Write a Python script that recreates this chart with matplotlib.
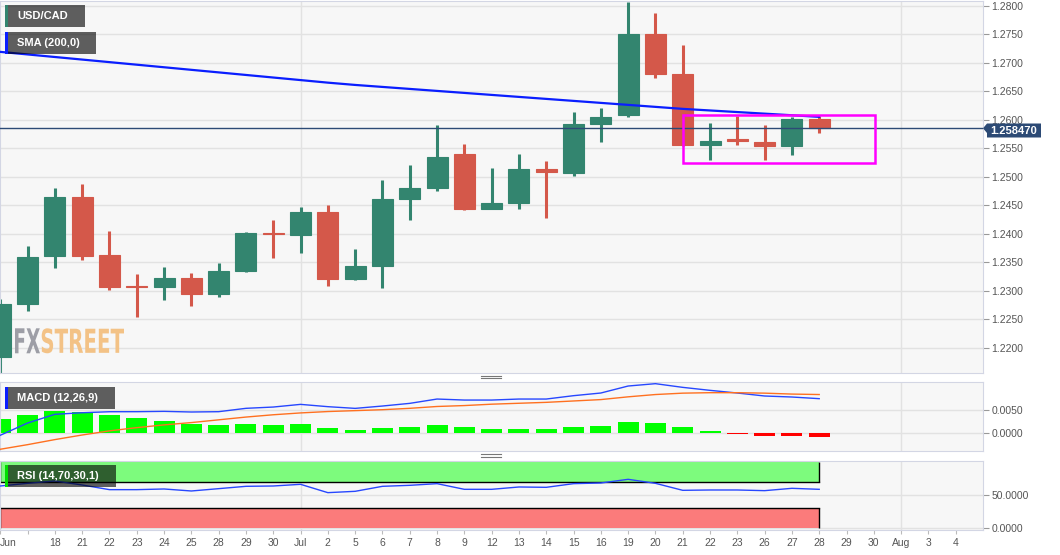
import numpy as np
import matplotlib
matplotlib.use('Agg')
import matplotlib.pyplot as plt
from matplotlib.patches import Rectangle, Polygon, PathPatch
from matplotlib.lines import Line2D
from matplotlib.textpath import TextPath
from matplotlib.font_manager import FontProperties
from matplotlib.transforms import Affine2D, IdentityTransform
from matplotlib.ticker import FormatStrFormatter

plt.rcParams['font.family'] = ['Liberation Sans', 'DejaVu Sans']

# daily USD/CAD candles, Jun 16 .. Jul 28
opens = [1.2184, 1.2277, 1.2360, 1.2464, 1.2362, 1.2308, 1.2306, 1.2323, 1.2294, 1.2335,
         1.2402, 1.2398, 1.2438, 1.2321, 1.2343, 1.2461, 1.2481, 1.2540, 1.2444, 1.2454,
         1.2513, 1.2507, 1.2593, 1.2609, 1.2750, 1.2680, 1.2555, 1.2566, 1.2561, 1.2554,
         1.2602]
highs = [1.2285, 1.2378, 1.2481, 1.2487, 1.2405, 1.2329, 1.2342, 1.2331, 1.2348, 1.2403,
         1.2424, 1.2446, 1.2450, 1.2373, 1.2495, 1.2521, 1.2590, 1.2557, 1.2515, 1.2539,
         1.2527, 1.2613, 1.2620, 1.2806, 1.2787, 1.2731, 1.2594, 1.2607, 1.2590, 1.2605,
         1.2606]
lows = [1.2150, 1.2264, 1.2339, 1.2354, 1.2302, 1.2253, 1.2283, 1.2273, 1.2289, 1.2333,
        1.2357, 1.2366, 1.2309, 1.2318, 1.2304, 1.2424, 1.2475, 1.2442, 1.2443, 1.2443,
        1.2427, 1.2501, 1.2560, 1.2604, 1.2674, 1.2554, 1.2529, 1.2555, 1.2529, 1.2538,
        1.2577]
closes = [1.2277, 1.2359, 1.2464, 1.2361, 1.2307, 1.2306, 1.2323, 1.2294, 1.2335, 1.2402,
          1.2400, 1.2438, 1.2321, 1.2343, 1.2461, 1.2480, 1.2534, 1.2444, 1.2453, 1.2513,
          1.2508, 1.2593, 1.2605, 1.2750, 1.2681, 1.2555, 1.2562, 1.2562, 1.2554, 1.2601,
          1.25847]
sma200 = [1.2719, 1.27145, 1.2710, 1.27055, 1.2701, 1.26965, 1.2692, 1.26875, 1.2683, 1.26785,
          1.2674, 1.26695, 1.2665, 1.2661, 1.26575, 1.2654, 1.26505, 1.2647, 1.26435, 1.2640,
          1.26365, 1.2633, 1.26295, 1.2626, 1.26225, 1.2619, 1.26162, 1.26134, 1.26106, 1.26078,
          1.2605]
last_price = 1.25847

macd_line = [-0.00056, 0.0021, 0.0040, 0.00434, 0.00456, 0.00457, 0.00464, 0.0045, 0.00457, 0.0053,
             0.00558, 0.00616, 0.00566, 0.00529, 0.0058, 0.00638, 0.00732, 0.0071, 0.0071, 0.00732,
             0.00732, 0.00805, 0.00863, 0.01015, 0.01066, 0.00986, 0.00921, 0.00863, 0.00798, 0.00776,
             0.0074]
signal_line = [-0.0036, -0.0026, -0.0015, -0.0005, 0.0004, 0.0011, 0.0017, 0.0022, 0.0028, 0.0034,
               0.0039, 0.0043, 0.0046, 0.0048, 0.0050, 0.0053, 0.0057, 0.0059, 0.0062, 0.0064,
               0.0066, 0.0069, 0.0072, 0.0078, 0.0083, 0.0086, 0.0087, 0.0087, 0.0086, 0.0084,
               0.0083]
macd_hist = [0.0030, 0.0038, 0.0048, 0.0045, 0.0038, 0.00315, 0.0026, 0.0020, 0.00165, 0.00185,
             0.00175, 0.0019, 0.0010, 0.0005, 0.00095, 0.0012, 0.0016, 0.00115, 0.0008, 0.00087,
             0.0008, 0.00116, 0.00138, 0.00225, 0.00218, 0.00116, 0.00043, -0.00022, -0.00065, -0.00065,
             -0.00087]
rsi = [63.5, 67.5, 71, 65, 58, 58, 59, 56, 59.5, 63,
       63.5, 66, 53.5, 55.5, 63, 64.5, 67, 58.5, 58.5, 62,
       61.5, 67, 68, 73.5, 67.5, 57, 57.5, 57.5, 56.5, 60,
       58.5]

x_labels = ['Jun', '', '18', '21', '22', '23', '24', '25', '28', '29', '30', 'Jul', '2', '5', '6',
            '7', '8', '9', '12', '13', '14', '15', '16', '19', '20', '21', '22', '23', '26', '27',
            '28', '29', '30', 'Aug', '3', '4']
month_slots = [11, 33]

GREEN = '#33856f'
RED = '#d4584a'
W, H = 1060, 555


def fig_box(x0, y0, x1, y1):
    return [x0 / W, 1 - y1 / H, (x1 - x0) / W, (y1 - y0) / H]


def style(a):
    a.set_facecolor('#f7f7f7')
    for s in a.spines.values():
        s.set_color('#d3d6e4')
    a.yaxis.tick_right()
    a.tick_params(axis='y', length=4, width=0.8, color='#999999', labelsize=7.5,
                  labelcolor='#555555', pad=2)
    a.tick_params(axis='x', bottom=False, labelbottom=False)
    a.grid(axis='y', color='#e2e2e2', lw=1)
    a.set_axisbelow(True)
    a.set_xlim(-0.01, 36.0)
    for xs in month_slots:
        a.axvline(xs, color='#e2e2e2', lw=1, zorder=0)
    a.yaxis.set_major_formatter(FormatStrFormatter('%.4f'))


fig = plt.figure(figsize=(10.6, 5.55), dpi=100)
ax = fig.add_axes(fig_box(0, 1, 983, 373))
ax_macd = fig.add_axes(fig_box(0, 382.3, 983, 451))
ax_rsi = fig.add_axes(fig_box(0, 461, 983, 529.5))
for a in (ax, ax_macd, ax_rsi):
    style(a)

# price panel
idx = np.arange(len(opens))
o = np.array(opens)
c = np.array(closes)
cols = np.where(c >= o, GREEN, RED)
ax.vlines(idx, lows, highs, colors=cols, lw=2.2, zorder=2)
ax.bar(idx, c - o, bottom=o, width=0.77, color=cols, edgecolor=cols, lw=0.8, zorder=3)
ax.plot(idx, sma200, color='#0a1eff', lw=1.6, zorder=4)
ax.axhline(last_price, color='#2c4a75', lw=1, zorder=5)
ax.add_patch(Rectangle((25.0, 1.2524), 7.05, 0.00842, fill=False, edgecolor='#ff00ff',
                       lw=1.8, zorder=6))
ax.set_yticks(np.arange(1.22, 1.2801, 0.005))
ax.set_ylim(1.21556, 1.280825)

# MACD panel
hist_cols = ['#00ff00' if v >= 0 else '#ff0000' for v in macd_hist]
ax_macd.bar(idx, macd_hist, width=0.77, color=hist_cols, zorder=2)
ax_macd.plot(idx, macd_line, color='#2747ff', lw=1, zorder=3)
ax_macd.plot(idx, signal_line, color='#ff7020', lw=1, zorder=3)
ax_macd.set_yticks([0, 0.005])
ax_macd.set_ylim(-0.00398, 0.01096)

# RSI panel
x0, x1 = idx[0], idx[-1]
ax_rsi.fill_between([x0, x1], 70, 100, color='#7dfb7d', lw=0, zorder=1)
ax_rsi.fill_between([x0, x1], 0, 30, color='#fb7b7b', lw=0, zorder=1)
ax_rsi.plot([x0, x1], [70, 70], color='black', lw=1, zorder=2)
ax_rsi.plot([x0, x1], [30, 30], color='black', lw=1, zorder=2)
ax_rsi.vlines([x0, x1], 70, 100, color='black', lw=1, zorder=2)
ax_rsi.vlines([x0, x1], 0, 30, color='black', lw=1, zorder=2)
ax_rsi.plot(idx, rsi, color='#2747ff', lw=1, zorder=3)
ax_rsi.set_yticks([0, 50])
ax_rsi.set_ylim(-1.8, 101)
ax_rsi.set_xticks(np.arange(len(x_labels)))
ax_rsi.set_xticklabels(x_labels)
ax_rsi.tick_params(axis='x', bottom=True, labelbottom=True, length=3, color='#bbbbbb',
                   labelsize=7.5, labelcolor='#555555', pad=3)
ax_rsi.get_xticklabels()[0].set_horizontalalignment('left')


# indicator labels in the corners
def label_box(y0, y1, x1, text, strip):
    fig.add_artist(Rectangle((5 / W, 1 - y1 / H), (x1 - 5) / W, (y1 - y0) / H,
                             transform=fig.transFigure, facecolor='black', alpha=0.62, lw=0))
    fig.add_artist(Rectangle((5 / W, 1 - y1 / H), 3 / W, (y1 - y0) / H,
                             transform=fig.transFigure, facecolor=strip, lw=0))
    fig.text(17 / W, 1 - (y0 + y1) / 2 / H, text, color='white', fontsize=8,
             fontweight='bold', va='center', ha='left')


label_box(5, 26.7, 85, 'USD/CAD', GREEN)
label_box(32.3, 53.7, 96, 'SMA (200,0)', '#0a1eff')
label_box(387, 409, 115, 'MACD (12,26,9)', '#0a1eff')
label_box(465, 487, 116, 'RSI (14,70,30,1)', '#00dd00')

# last price tag
tag = [(983, 128.3), (987, 123.5), (1041, 123.5), (1041, 137.5), (987, 137.5), (987, 133)]
fig.add_artist(Polygon([(x / W, 1 - y / H) for x, y in tag], closed=True,
                       transform=fig.transFigure, facecolor='#2c4a75', lw=0))
fig.text(1014 / W, 1 - 130.8 / H, '%.6f' % last_price, color='white', fontsize=8,
         fontweight='bold', ha='center', va='center')


# watermark
def squeeze_text(s, x0, x1, y_top, y_bot, color):
    tp = TextPath((0, 0), s, size=100, prop=FontProperties(family='DejaVu Sans', weight='bold'))
    ext = tp.get_extents()
    tr = (Affine2D().translate(-ext.x0, -ext.y0)
          .scale((x1 - x0) / ext.width, (y_bot - y_top) / ext.height)
          .translate(x0, H - y_bot))
    fig.add_artist(PathPatch(tr.transform_path(tp), facecolor=color, lw=0,
                             transform=IdentityTransform()))


squeeze_text('FX', 15, 40, 328.3, 353.3, '#9d9ea6')
squeeze_text('STREET', 41.7, 124, 328.3, 353.3, '#f3c286')

# panel drag handles
for yy in (375.7, 378.3, 454.3, 457.0):
    fig.add_artist(Line2D([481 / W, 501 / W], [1 - yy / H] * 2, transform=fig.transFigure,
                          color='#777777', lw=0.8))

fig.savefig('out.png', dpi=100)
